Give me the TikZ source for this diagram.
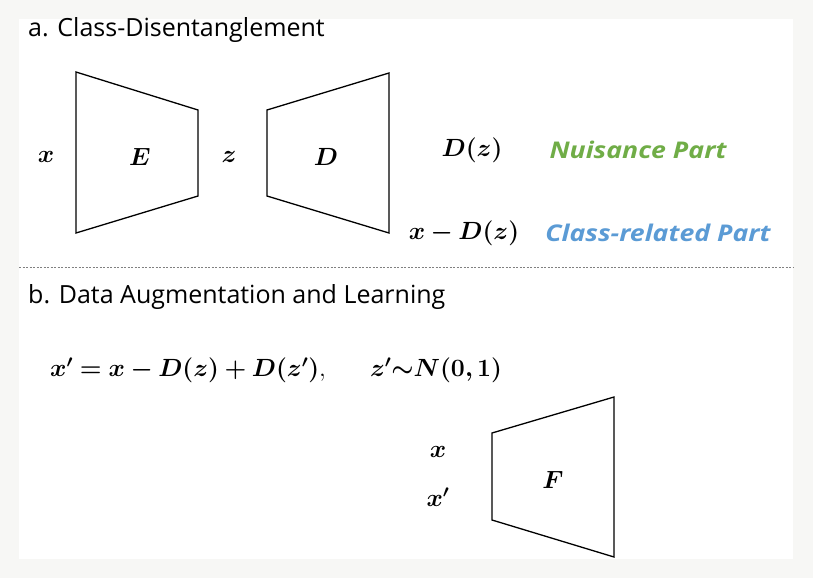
\documentclass[tikz,border=0pt]{standalone}
\usepackage{fontspec}
\usepackage{bm}
\setsansfont{Open Sans}
\newfontfamily\partfont[FakeStretch=1.16]{Open Sans}
\definecolor{bggray}{HTML}{F7F7F5}
\definecolor{nuis}{HTML}{70AD47}
\definecolor{clsb}{HTML}{5B9BD5}
\begin{document}
\begin{tikzpicture}[x=1pt,y=-1pt,
  block/.style={draw=black,line width=1.3pt,line join=miter},
  mathlbl/.style={inner sep=0pt,font=\fontsize{26}{30}\selectfont},
  title/.style={anchor=west,inner sep=0pt,font=\sffamily\fontsize{25}{29}\selectfont},
  part/.style={inner sep=0pt,font=\partfont\bfseries\itshape\fontsize{23}{27}\selectfont}]
\fill[bggray] (0,0) rectangle (813,578);
\fill[white] (19,19) rectangle (793,559);
\useasboundingbox (0,0) rectangle (813,578);
% titles
\node[title] (ta) at (28,30) {a. Class-Disentanglement};
\node[title] (tb) at (28,297) {b. Data Augmentation and Learning};
% dashed separator
\draw[line width=0.6pt,gray,dash pattern=on 2pt off 1.5pt] (19,267) -- (793,267);
% encoder / decoder
\draw[block] (76,72) -- (198,110) -- (198,196) -- (76,233) -- cycle;
\draw[block] (267,110) -- (389,73) -- (389,233) -- (267,196) -- cycle;
\node[mathlbl] (x) at (46,157) {$\bm{x}$};
\node[mathlbl] (E) at (140,157) {$\bm{E}$};
\node[mathlbl] (z) at (229,157) {$\bm{z}$};
\node[mathlbl] (D) at (326,157) {$\bm{D}$};
\node[mathlbl] (Dz) at (472,150) {$\bm{D(z)}$};
\node[mathlbl] (xDz) at (464,233) {$\bm{x-D(z)}$};
\node[part,text=nuis] (nuis) at (638,150) {Nuisance Part};
\node[part,text=clsb] (cls) at (658,233) {Class-related Part};
% equation
\node[mathlbl,anchor=west] (eq) at (50,370) {$\bm{x'=x-D(z)+D(z')},\hspace{40pt} \bm{z'{\sim}N(0,1)}$};
% classifier
\draw[block] (492,433) -- (614,397) -- (614,557) -- (492,520) -- cycle;
\node[mathlbl] (xa) at (438,452) {$\bm{x}$};
\node[mathlbl] (xb) at (438,497) {$\bm{x'}$};
\node[mathlbl] (F) at (553,480) {$\bm{F}$};
\end{tikzpicture}
\end{document}
